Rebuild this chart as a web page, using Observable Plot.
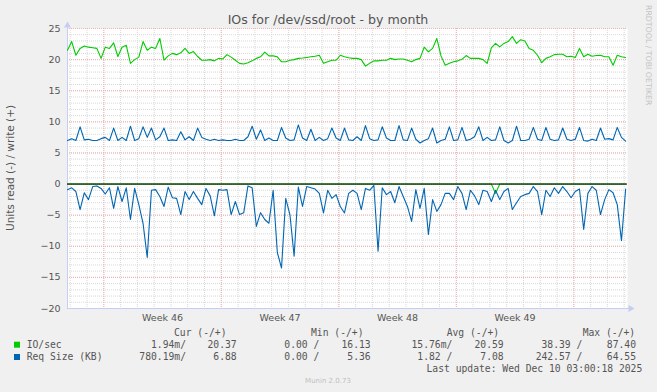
<!DOCTYPE html>
<html><head><meta charset="utf-8">
<script src="https://cdn.jsdelivr.net/npm/d3@7"></script>
<script src="https://cdn.jsdelivr.net/npm/@observablehq/plot@0.6"></script>
<style>
html,body{margin:0;padding:0;background:#f0f0f0;}
#wrap{position:relative;width:657px;height:392px;background:#f0f0f0;overflow:hidden;}
#wrap svg{position:absolute;left:0;top:0;}
</style></head><body><div id="wrap"></div>
<script>
// ---------- data ----------
const title = "IOs for /dev/ssd/root - by month";
const yLabel = "Units read (-) / write (+)";
const weekLabels = ["Week 46", "Week 47", "Week 48", "Week 49"];
const weekStarts = ["2025-11-09", "2025-11-16", "2025-11-23", "2025-11-30", "2025-12-07"];
const yTicks = [-20, -15, -10, -5, 0, 5, 10, 15, 20, 25];
const seriesNames = ["IO/sec", "Req Size (KB)"];
const seriesColors = ["#00cc00", "#0066b3"];
const legendHeads = ["Cur (-/+)", "Min (-/+)", "Avg (-/+)", "Max (-/+)"];
const ioLegendValues = ["1.94m/", "20.37", "0.00 /", "16.13", "15.76m/", "20.59", "38.39 /", "87.40"];
const reqLegendValues = ["780.19m/", "6.88", "0.00 /", "5.36", "1.82 /", "7.08", "242.57 /", "64.55"];
const lastUpdate = "Last update: Wed Dec 10 03:00:18 2025";
const watermark = "Munin 2.0.73";
const rrdCredit = "RRDTOOL / TOBI OETIKER";
const startTime = "2025-11-06T20:06:00Z";
const stepHours = 6;
const spanDays = 33.36;

// IO/sec read (-) and write (+)
const ioRead = [
 0,0,0,0,0,0,0,0,0,0,
 0,0,0,0,0,0,0,0,0,0,
 0,0,0,0,0,0,0,0,0,0,
 0,0,0,0,0,0,0,0,0,0,
 0,0,0,0,0,0,0,0,0,0,
 0,0,0,0,0,0,0,0,0,0,
 0,0,0,0,0,0,0,0,0,0,
 0,0,0,0,0,0,0,0,0,0,
 0,0,0,0,0,0,0,0,0,0,
 0,0,0,0,0,0,0,0,0,0,
 0,0,-1.5,0,0,0,0,0,0,0,
 0,0,0,0,0,0,0,0,0,0,
 0,0,0,0,0,0,0,0,0,0,
 0,0,0,0
];
const ioWrite = [
 21.5,22.9,20.7,21.8,22.2,22.0,21.9,21.8,20.2,22.0,
 21.8,22.7,20.5,22.0,22.3,19.4,20.0,20.4,22.9,21.5,
 22.0,21.8,23.4,19.9,20.6,21.0,20.8,21.1,21.8,21.0,
 21.3,20.5,19.9,19.9,20.0,19.8,20.2,20.1,20.8,20.4,
 19.9,19.4,19.3,19.5,19.8,20.2,20.45,21.2,20.6,20.6,
 20.45,19.65,19.65,19.9,20.0,20.2,20.25,20.35,20.45,20.55,
 20.7,19.4,19.65,19.9,19.9,20.7,20.45,20.3,20.2,20.2,
 20.0,18.96,19.4,19.8,19.8,19.9,19.9,20.2,20.0,20.1,
 20.1,19.9,19.65,20.0,20.2,22.0,21.25,21.8,23.4,20.6,
 19.1,19.4,19.65,19.8,20.05,20.65,20.2,20.2,20.2,20.0,
 19.4,21.9,22.6,22.05,22.6,22.9,23.7,22.6,23.2,23.0,
 21.8,21.5,20.7,19.5,20.2,20.45,20.8,20.85,20.85,20.45,
 20.55,20.35,21.8,20.45,20.85,20.55,20.65,20.7,20.45,20.45,
 19.1,20.7,20.45,20.35
];
// Req Size (KB) read (-) and write (+)
const reqRead = [
 -0.9,-0.6,-1.2,-4.1,-1.4,-2.5,-0.4,-0.3,-0.7,-1.6,
 -0.6,-3.9,-0.4,-2.8,-0.6,-5.7,-0.7,-3.3,-6.3,-11.8,
 -1.0,-0.9,-2.0,-3.6,-0.5,-2.2,-2.3,-4.9,-1.2,-2.5,
 -1.2,-2.3,-3.3,-0.7,-1.9,-5.1,-0.9,-1.0,-0.9,-4.9,
 -2.8,-4.9,-4.6,-0.3,-0.6,-6.8,-4.6,-5.7,-6.3,-1.0,
 -11.0,-13.5,-2.3,-4.9,-11.6,-0.5,-3.6,-0.4,-0.6,-0.8,
 -1.5,-4.65,-1.0,-2.3,-1.7,-3.6,-4.65,-1.5,-1.0,-1.5,
 -4.1,-0.7,-1.0,-0.2,-10.8,-0.6,-1.7,-1.2,-3.0,-0.4,
 -2.0,-3.6,-6.0,-0.9,-3.9,-0.7,-8.1,-2.5,-4.4,-3.3,
 -1.5,-1.5,-2.5,-0.4,-1.5,-4.1,-1.0,-1.9,-3.3,-1.0,
 -1.2,-2.8,-1.0,-2.5,-1.2,-0.7,-4.1,-3.0,-2.0,-1.7,
 -1.5,-0.4,-1.2,-4.9,-1.0,-2.0,-0.6,-1.5,-0.4,-1.2,
 -2.2,-1.2,-0.8,-7.3,-1.5,-0.4,-1.0,-4.9,-2.5,-0.9,
 -1.4,-3.3,-9.1,-0.8
];
const reqWrite = [
 7.0,7.3,7.0,9.2,7.1,7.2,7.0,7.0,7.3,7.5,
 7.0,9.0,7.0,7.5,7.0,9.3,7.0,7.3,9.2,7.5,
 9.0,7.1,7.6,9.0,7.0,7.1,7.0,8.4,7.1,7.6,
 7.0,9.0,7.5,7.2,7.0,7.2,7.0,7.1,7.0,7.0,
 7.2,7.0,7.0,7.6,9.3,7.2,8.7,7.0,7.4,7.0,
 7.0,9.1,7.4,7.0,7.1,9.5,7.4,7.0,8.8,7.0,
 7.5,7.0,7.3,9.0,7.4,7.0,9.0,7.1,7.0,7.6,
 7.0,9.4,7.3,7.0,7.1,9.2,7.4,7.0,7.0,9.4,
 7.1,7.0,9.0,7.2,6.6,7.0,7.3,9.0,6.6,7.0,
 7.2,9.2,7.0,7.1,9.1,7.0,7.2,7.6,9.2,7.0,
 7.5,7.0,7.1,9.2,7.0,6.6,7.0,9.3,7.0,7.0,
 7.2,9.1,7.2,7.0,9.1,7.2,7.0,7.1,9.0,7.2,
 7.0,7.2,9.1,7.0,6.9,7.2,7.0,9.0,7.2,7.3,
 7.1,9.1,7.5,6.9
];

// ---------- chart ----------
const t0 = new Date(startTime);
const tEnd = new Date(+t0 + spanDays * 864e5);
const times = ioWrite.map((_, i) => new Date(+t0 + i * stepHours * 3600e3));
const rows = vals => vals.map((v, i) => ({t: times[i], v}));

const dayLines = d3.utcDay.range(d3.utcDay.ceil(t0), tEnd);
const weekLines = weekStarts.map(s => new Date(s + "T00:00:00Z"));
const weekMid = weekLabels.map((_, i) => new Date(+weekLines[i] + 3.5 * 864e5));
const labelOf = new Map(weekMid.map((d, i) => [+d, weekLabels[i]]));
const minorY = d3.range(yTicks[0], yTicks[yTicks.length - 1] + 1, 1);

const minorColor = "#d8d8d8";
const majorColor = "#f0b0b0";
const axisColor = "#c6cdf3";
const textColor = "#555";

const chart = Plot.plot({
  width: 657, height: 392,
  marginLeft: 67, marginRight: 30, marginTop: 28, marginBottom: 84,
  x: {type: "utc", domain: [t0, tEnd]},
  y: {domain: [yTicks[0], yTicks[yTicks.length - 1]]},
  style: {background: "transparent", fontFamily: "DejaVu Sans", fontSize: "9.5px", color: textColor, overflow: "visible"},
  marks: [
    Plot.frame({fill: "white", stroke: "none"}),
    Plot.ruleX(dayLines, {stroke: minorColor, strokeDasharray: "1,1"}),
    Plot.ruleY(minorY, {stroke: minorColor, strokeDasharray: "1,1"}),
    Plot.ruleX(weekLines, {stroke: majorColor, strokeDasharray: "1,1"}),
    Plot.ruleY(yTicks, {stroke: majorColor, strokeDasharray: "1,1"}),
    Plot.ruleX([t0], {stroke: axisColor, insetTop: -4}),
    Plot.ruleY([yTicks[0]], {stroke: axisColor, insetRight: -3}),
    Plot.dot([{t: t0, v: yTicks[yTicks.length - 1]}], {x: "t", y: "v", symbol: "triangle", r: 2.6, fill: axisColor, stroke: "none", dy: -3}),
    Plot.dot([{t: tEnd, v: yTicks[0]}], {x: "t", y: "v", symbol: "triangle", r: 2.6, fill: axisColor, stroke: "none", rotate: 90, dx: 3}),
    Plot.lineY(rows(ioRead), {x: "t", y: "v", stroke: seriesColors[0], strokeWidth: 1.1}),
    Plot.ruleY([0], {stroke: "#000", strokeWidth: 1}),
    Plot.lineY(rows(ioWrite), {x: "t", y: "v", stroke: seriesColors[0], strokeWidth: 1.1}),
    Plot.lineY(rows(reqRead), {x: "t", y: "v", stroke: seriesColors[1], strokeWidth: 1.1}),
    Plot.lineY(rows(reqWrite), {x: "t", y: "v", stroke: seriesColors[1], strokeWidth: 1.1}),
    Plot.axisY(yTicks, {tickSize: 0, tickPadding: 7, label: null, fontSize: 9.5}),
    Plot.axisX(weekMid, {tickSize: 0, tickPadding: 6, label: null, fontSize: 9.5, tickFormat: d => labelOf.get(+d)})
  ]
});
const wrap = document.getElementById("wrap");
wrap.appendChild(chart);

// ---------- texts around the plot ----------
const svg = d3.create("svg").attr("width", 657).attr("height", 392)
  .style("pointer-events", "none").style("overflow", "visible");

svg.append("text").attr("x", 328).attr("y", 24).attr("text-anchor", "middle")
  .attr("font-family", "DejaVu Sans").attr("font-size", 12.6).attr("fill", textColor).text(title);

svg.append("text").attr("transform", "translate(14,168) rotate(-90)").attr("text-anchor", "middle")
  .attr("font-family", "DejaVu Sans").attr("font-size", 10.5).attr("fill", textColor).text(yLabel);

svg.append("text").attr("transform", "translate(646,5) rotate(90)").attr("text-anchor", "start")
  .attr("font-family", "DejaVu Sans").attr("font-size", 7.8).attr("fill", "#c4c4c4").text(rrdCredit);

const mono = "DejaVu Sans Mono";
const legSize = 9.7;
const headStarts = [174, 311, 446.7, 582.7];
legendHeads.forEach((h, i) => svg.append("text").attr("x", headStarts[i]).attr("y", 336)
  .attr("font-family", mono).attr("font-size", legSize).attr("fill", textColor).style("white-space", "pre").text(h));

const valueEnds = [186, 236.7, 319.3, 370.7, 452.3, 503.7, 582.3, 636];
[ioLegendValues, reqLegendValues].forEach((vals, r) => {
  const y = 347.7 + r * 12.3;
  svg.append("rect").attr("x", 14).attr("y", y - 6).attr("width", 6).attr("height", 6).attr("fill", seriesColors[r]);
  svg.append("text").attr("x", 26.7).attr("y", y).attr("font-family", mono).attr("font-size", legSize)
    .attr("fill", textColor).style("white-space", "pre").text(seriesNames[r]);
  vals.forEach((v, i) => svg.append("text").attr("x", valueEnds[i]).attr("y", y).attr("text-anchor", "end")
    .attr("font-family", mono).attr("font-size", legSize).attr("fill", textColor).style("white-space", "pre").text(v));
});
svg.append("text").attr("x", 642.3).attr("y", 372).attr("text-anchor", "end")
  .attr("font-family", mono).attr("font-size", legSize).attr("fill", textColor).style("white-space", "pre").text(lastUpdate);

svg.append("text").attr("x", 328).attr("y", 383.3).attr("text-anchor", "middle")
  .attr("font-family", "DejaVu Sans").attr("font-size", 7).attr("fill", "#c0c0c0").text(watermark);

wrap.appendChild(svg.node());
</script></body></html>
